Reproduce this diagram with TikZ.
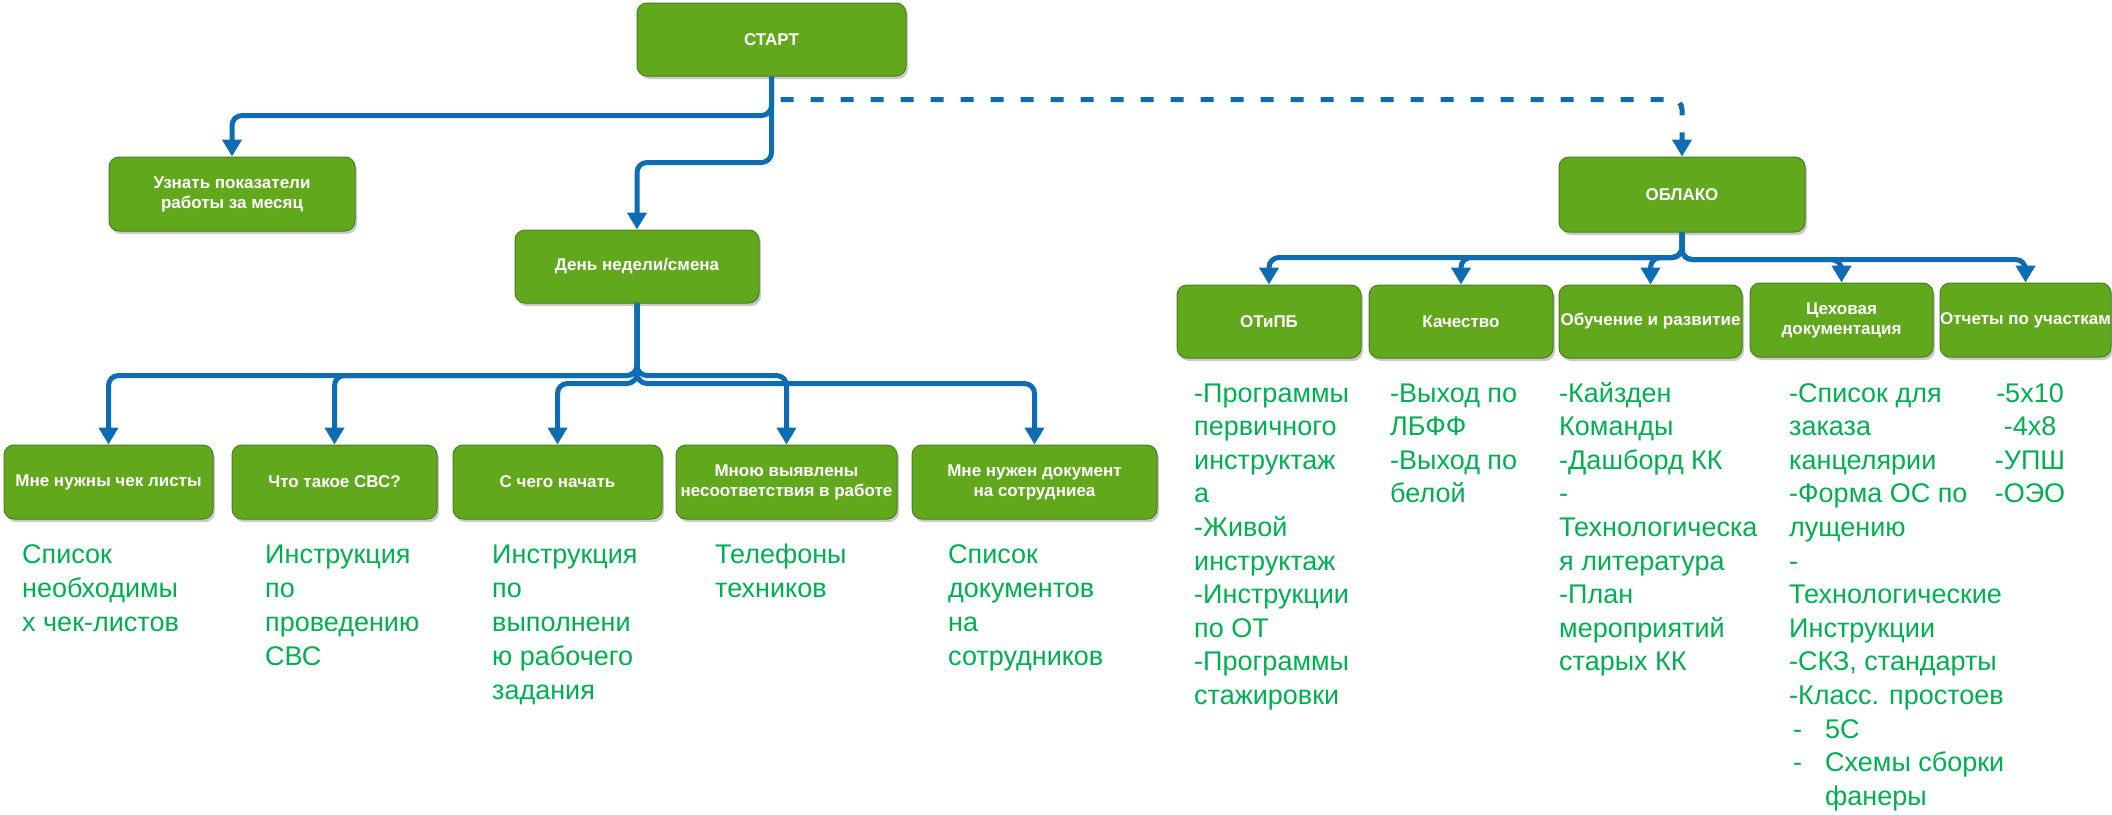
\documentclass[tikz,border=0pt]{standalone}
\usepackage{fontspec}
\setmainfont{Liberation Sans}
\usetikzlibrary{arrows.meta,shadows,calc}
\definecolor{boxgreen}{RGB}{98,168,28}
\definecolor{boxborder}{RGB}{72,128,30}
\definecolor{linkblue}{RGB}{14,108,178}
\definecolor{txtgreen}{RGB}{0,176,80}
\begin{document}
\begin{tikzpicture}[x=1pt,y=-1pt,
  box/.style={draw=boxborder, line width=1pt, fill=boxgreen, rounded corners=10pt,
    text=white, font=\fontsize{17}{20}\selectfont\bfseries, align=center, inner sep=0pt,
    drop shadow={shadow xshift=2pt, shadow yshift=-3pt, opacity=0.35, fill=black!60}},
  conn/.style={draw=linkblue, line width=5pt, rounded corners=10pt,
    -{Triangle[width=19pt,length=17pt]}},
  dconn/.style={conn, dash pattern=on 13pt off 17pt},
  note/.style={text=txtgreen, font=\fontsize{27}{34}\selectfont, align=left, inner sep=0pt, anchor=base west},
  rnote/.style={note, font=\fontsize{27}{33.6}\selectfont},
  rnotec/.style={rnote, align=center, anchor=base},
]
\useasboundingbox (0,0) rectangle (2112,814);

% top level
\node[box, minimum width=269pt, minimum height=73pt] (start) at (771.5,39.5) {СТАРТ};
\node[box, minimum width=246pt, minimum height=74pt] (uznat) at (232,194) {Узнать показатели\\работы за месяц};
\node[box, minimum width=244pt, minimum height=73pt] (den) at (637,266.5) {День недели/смена};
\node[box, minimum width=246pt, minimum height=75pt] (oblako) at (1682,194.5) {ОБЛАКО};

% left row
\node[box, minimum width=209pt, minimum height=74pt] (b1) at (108.5,482) {Мне нужны чек листы};
\node[box, minimum width=205pt, minimum height=74pt] (b2) at (334.5,482) {Что такое СВС?};
\node[box, minimum width=209pt, minimum height=74pt] (b3) at (557.5,482) {С чего начать};
\node[box, minimum width=221pt, minimum height=74pt] (b4) at (786.5,482) {Мною выявлены\\несоответствия в работе};
\node[box, minimum width=245pt, minimum height=74pt] (b5) at (1034.5,482) {Мне нужен документ\\на сотрудниеа};

% right row
\node[box, minimum width=184pt, minimum height=73pt] (r1) at (1269,321.5) {ОТиПБ};
\node[box, minimum width=184pt, minimum height=73pt] (r2) at (1461,321.5) {Качество};
\node[box, minimum width=183pt, minimum height=73pt] (r3) at (1650.5,321.5) {Обучение и развитие};
\node[box, minimum width=183pt, minimum height=74pt] (r4) at (1841.5,320) {Цеховая\\документация};
\node[box, minimum width=171pt, minimum height=74pt] (r5) at (2025.5,320) {Отчеты по участкам};

% connectors
\draw[conn] (start.south) -- ++(0,39) -| (uznat.north);
\draw[conn] (start.south) -- ++(0,86) -| (den.north);
\draw[dconn] ($(start.south)+(9,23)$) -| (oblako.north);

\draw[conn] (den.south) -- ++(0,72) -| (b1.north);
\draw[conn] (den.south) -- ++(0,72) -| (b2.north);
\draw[conn] (den.south) -- ++(0,72) -| (b4.north);
\draw[conn] (den.south) -- ++(0,80) -| (b3.north);
\draw[conn] (den.south) -- ++(0,80) -| (b5.north);

\draw[conn] (oblako.south) -- ++(0,25) -| (r1.north);
\draw[conn] (oblako.south) -- ++(0,25) -| (r2.north);
\draw[conn] (oblako.south) -- ++(0,25) -| (r3.north);
\draw[conn] (oblako.south) -- ++(0,27) -| (r4.north);
\draw[conn] (oblako.south) -- ++(0,27) -| (r5.north);

% notes under left row (base anchor = baseline of last line; first baseline at 563)
\node[note] (t1) at (22,631) {Список\\необходимы\\х чек-листов};
\node[note] (t2) at (265,665) {Инструкция\\по\\проведению\\СВС};
\node[note] (t3) at (492,699) {Инструкция\\по\\выполнени\\ю рабочего\\задания};
\node[note] (t4) at (715,597) {Телефоны\\техников};
\node[note] (t5) at (948,665) {Список\\документов\\на\\сотрудников};

% notes under right row (first baseline at 402)
\node[rnote] (n1) at (1194,704.4) {-Программы\\первичного\\инструктаж\\а\\-Живой\\инструктаж\\-Инструкции\\по ОТ\\-Программы\\стажировки};
\node[rnote] (n2) at (1390,502.8) {-Выход по\\ЛБФФ\\-Выход по\\белой};
\node[rnote] (n3) at (1559,670.8) {-Кайзден\\Команды\\-Дашборд КК\\-\\Технологическа\\я литература\\-План\\мероприятий\\старых КК};
\node[rnote] (n4) at (1789,805.2) {-Список для\\заказа\\канцелярии\\-Форма ОС по\\лущению\\-\\Технологические\\Инструкции\\-СКЗ, стандарты\\-Класс. простоев\\\makebox[36pt][l]{\hspace{4pt}-}5С\\\makebox[36pt][l]{\hspace{4pt}-}Схемы сборки\\\hspace*{36pt}фанеры};
\node[rnotec] (n5) at (2030,502.8) {-5х10\\-4х8\\-УПШ\\-ОЭО};
\end{tikzpicture}
\end{document}
